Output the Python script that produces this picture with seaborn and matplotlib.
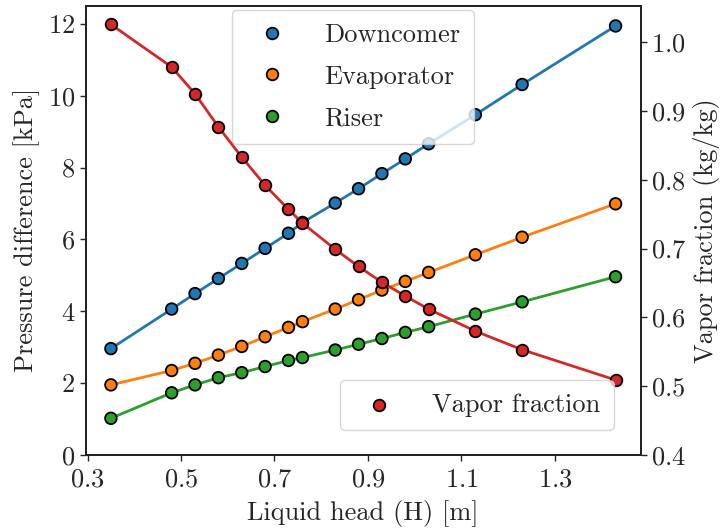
import numpy as np
import pandas as pd
import matplotlib
matplotlib.use("Agg")
import matplotlib.pyplot as plt
import seaborn as sns

# liquid head [m]
head = [0.35, 0.48, 0.53, 0.58, 0.63, 0.68, 0.73, 0.76, 0.83, 0.88, 0.93, 0.98, 1.03, 1.13, 1.23, 1.43]

# pressure differences [kPa]
downcomer = [2.96, 4.06, 4.49, 4.91, 5.33, 5.75, 6.17, 6.47, 7.01, 7.41, 7.83, 8.24, 8.66, 9.47, 10.31, 11.94]
evaporator = [1.95, 2.35, 2.55, 2.78, 3.02, 3.29, 3.55, 3.71, 4.06, 4.32, 4.59, 4.83, 5.08, 5.57, 6.06, 6.99]
riser = [1.02, 1.73, 1.95, 2.15, 2.29, 2.46, 2.63, 2.71, 2.92, 3.08, 3.24, 3.41, 3.57, 3.92, 4.26, 4.96]

# vapor fraction [kg/kg]
vapor = [1.026, 0.964, 0.925, 0.877, 0.833, 0.792, 0.757, 0.737, 0.699, 0.674, 0.651, 0.631, 0.612, 0.580, 0.553, 0.509]

series = ["Downcomer", "Evaporator", "Riser"]
colors = ["#1f77b4", "#ff7f0e", "#2ca02c"]
vapor_color = "#d62728"

df = pd.DataFrame({
    "head": head * 3,
    "dp": downcomer + evaporator + riser,
    "series": sum([[s] * len(head) for s in series], []),
})
dv = pd.DataFrame({"head": head, "vapor": vapor})

sns.set_style("ticks")
plt.rcParams["font.family"] = "serif"
plt.rcParams["font.serif"] = ["cmr10", "DejaVu Serif"]
plt.rcParams["mathtext.fontset"] = "cm"
plt.rcParams["axes.formatter.use_mathtext"] = True
plt.rcParams["axes.unicode_minus"] = False

fs = 19
pal = dict(zip(series, colors))

fig = plt.figure(figsize=(7.2, 5.29), dpi=100)
ax = fig.add_axes([0.119, 0.140, 0.771, 0.849])
ax2 = ax.twinx()

sns.lineplot(data=df, x="head", y="dp", hue="series", palette=pal, lw=2,
             legend=False, ax=ax, zorder=2)
sns.scatterplot(data=df, x="head", y="dp", hue="series", palette=pal, s=70,
                edgecolor="black", linewidth=1.3, ax=ax, zorder=3)

sns.lineplot(data=dv, x="head", y="vapor", color=vapor_color, lw=2, ax=ax2, zorder=2)
sns.scatterplot(data=dv, x="head", y="vapor", color=vapor_color, s=70,
                edgecolor="black", linewidth=1.3, ax=ax2, zorder=3,
                label="Vapor fraction")

ax.set_ylim(0, 12.5)
ax2.set_ylim(0.4, 1.053)
ax.set_xticks([0.3, 0.5, 0.7, 0.9, 1.1, 1.3])
ax.set_yticks(np.arange(0, 13, 2))
ax2.set_yticks(np.arange(0.4, 1.01, 0.1))

ax.set_xlabel("Liquid head (H) [m]", fontsize=fs, labelpad=6)
ax.set_ylabel("Pressure difference [kPa]", fontsize=fs, labelpad=6)
ax2.set_ylabel("Vapor fraction (kg/kg)", fontsize=fs, labelpad=5)
ax.tick_params(axis="x", labelsize=fs, width=1, length=4.5, pad=5)
ax.tick_params(axis="y", labelsize=fs, width=1, length=4.5, pad=3)
ax2.tick_params(labelsize=fs, width=1, length=4.5, pad=3)
for a in (ax, ax2):
    for sp in a.spines.values():
        sp.set_linewidth(1.3)
        sp.set_color("#222222")
        sp.set_visible(True)

h, l = ax.get_legend_handles_labels()
ax.legend(h, l, loc="upper left", bbox_to_anchor=(0.263, 0.991), fontsize=fs,
          handlelength=2, handletextpad=1.0, labelspacing=0.67,
          borderaxespad=0, frameon=True, borderpad=0.52)
h2, l2 = ax2.get_legend_handles_labels()
ax2.legend(h2, l2, loc="lower right", bbox_to_anchor=(0.951, 0.056), fontsize=fs,
           handlelength=2, handletextpad=1.0, borderaxespad=0,
           frameon=True, borderpad=0.5)

fig.savefig("out.png", dpi=100)
